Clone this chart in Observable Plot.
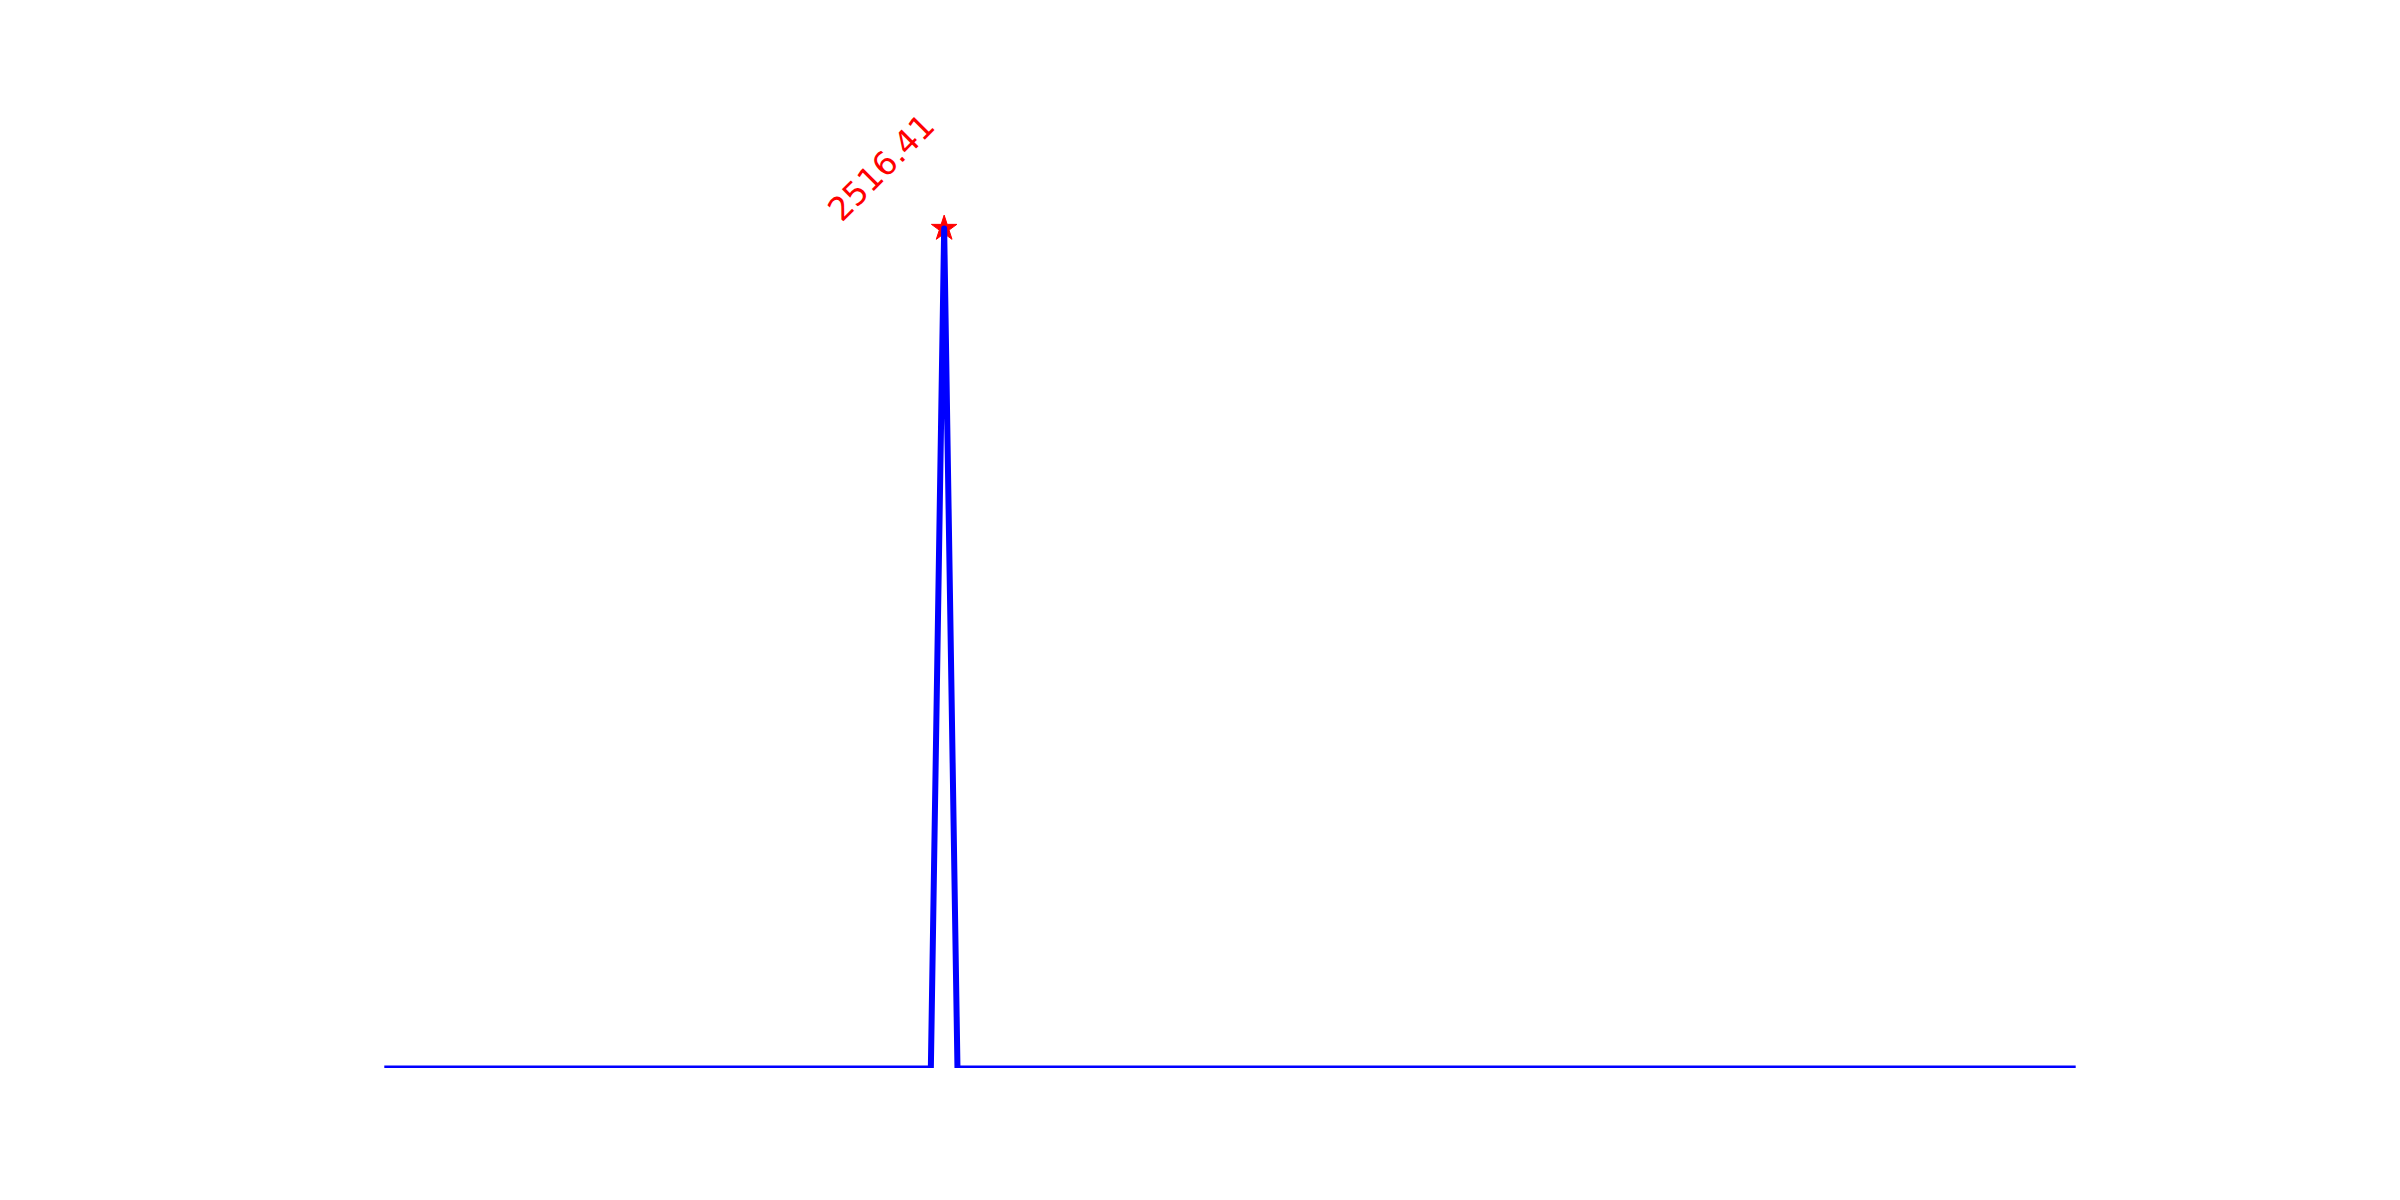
<!DOCTYPE html>
<html>
<head>
<meta charset="utf-8">
<script src="https://cdn.jsdelivr.net/npm/d3@7"></script>
<script src="https://cdn.jsdelivr.net/npm/@observablehq/plot@0.6"></script>
<style>
  html, body { margin: 0; padding: 0; background: #ffffff; overflow: hidden; }
  #chart svg { display: block; }
</style>
</head>
<body>
<div id="chart"></div>
<script>
// Series: sample index (x) and value (y) at the points where the line bends
const sampleIndex = [0, 41, 42, 43, 127];
const sampleValue = [0, 0, 2516.41, 0, 0];
// Peak annotation
const peakIndex = [42];
const peakValue = [2516.41];
const peakLabel = ["2516.41"];

const series = sampleIndex.map((x, i) => ({x, y: sampleValue[i]}));
const peaks = peakIndex.map((x, i) => ({x, y: peakValue[i], label: peakLabel[i]}));

const yMax = d3.max(sampleValue) * 1.1;

const chart = Plot.plot({
  width: 2400,
  height: 1200,
  marginTop: 144,
  marginBottom: 132,
  marginLeft: 384.3,
  marginRight: 324.3,
  style: {background: "#ffffff", fontFamily: "DejaVu Sans"},
  x: {domain: [0, 127], axis: null},
  y: {domain: [0, yMax], axis: null},
  marks: [
    Plot.dot(peaks, {x: "x", y: "y", symbol: "star", r: 8, fill: "#ff0000", stroke: "#ff0000", strokeWidth: 1, strokeLinejoin: "round"}),
    Plot.line(series, {x: "x", y: "y", stroke: "#0000ff", strokeWidth: 6, strokeLinecap: "square", strokeLinejoin: "round", clip: true}),
    Plot.text(peaks, {x: "x", y: "y", text: "label", rotate: -45, textAnchor: "start", lineAnchor: "bottom",
      dx: -102.5, dy: -5.5, fill: "#ff0000", fontSize: 32.5, fontFamily: "DejaVu Sans"})
  ]
});
document.getElementById("chart").appendChild(chart);
</script>
</body>
</html>
